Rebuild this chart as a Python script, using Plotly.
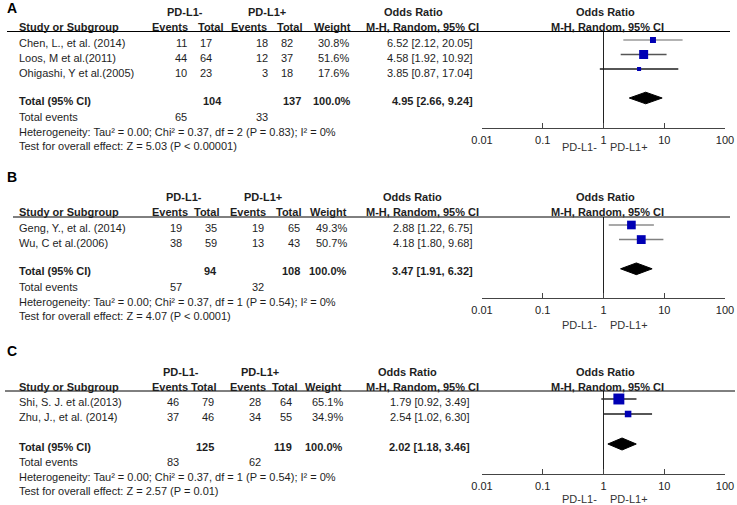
import plotly.graph_objects as go

W, H = 737, 505
FONT = "Liberation Sans, Arial, Helvetica, sans-serif"
TEXT = "#1e1e1e"
BLUE = "#0000b4"

# ---------------- data ----------------
tick_vals = [0.01, 0.1, 1, 10, 100]
tick_labels = ["0.01", "0.1", "1", "10", "100"]
group_neg, group_pos = "PD-L1-", "PD-L1+"

a_studies = ["Chen, L., et al. (2014)", "Loos, M et al.(2011)", "Ohigashi, Y et al.(2005)"]
a_neg_events = [11, 44, 10]
a_neg_total = [17, 64, 23]
a_pos_events = [18, 12, 3]
a_pos_total = [82, 37, 18]
a_weight = [30.8, 51.6, 17.6]
a_or = [6.52, 4.58, 3.85]
a_lo = [2.12, 1.92, 0.87]
a_hi = [20.05, 10.92, 17.04]
a_total = dict(neg_total=104, pos_total=137, weight=100.0, or_=4.95, lo=2.66, hi=9.24,
               neg_events=65, pos_events=33)
a_het = "Heterogeneity: Tau² = 0.00; Chi² = 0.37, df = 2 (P = 0.83); I² = 0%"
a_test = "Test for overall effect: Z = 5.03 (P < 0.00001)"

b_studies = ["Geng, Y., et al. (2014)", "Wu, C et al.(2006)"]
b_neg_events = [19, 38]
b_neg_total = [35, 59]
b_pos_events = [19, 13]
b_pos_total = [65, 43]
b_weight = [49.3, 50.7]
b_or = [2.88, 4.18]
b_lo = [1.22, 1.80]
b_hi = [6.75, 9.68]
b_total = dict(neg_total=94, pos_total=108, weight=100.0, or_=3.47, lo=1.91, hi=6.32,
               neg_events=57, pos_events=32)
b_het = "Heterogeneity: Tau² = 0.00; Chi² = 0.37, df = 1 (P = 0.54); I² = 0%"
b_test = "Test for overall effect: Z = 4.07 (P < 0.0001)"

c_studies = ["Shi, S. J. et al.(2013)", "Zhu, J., et al. (2014)"]
c_neg_events = [46, 37]
c_neg_total = [79, 46]
c_pos_events = [28, 34]
c_pos_total = [64, 55]
c_weight = [65.1, 34.9]
c_or = [1.79, 2.54]
c_lo = [0.92, 1.02]
c_hi = [3.49, 6.30]
c_total = dict(neg_total=125, pos_total=119, weight=100.0, or_=2.02, lo=1.18, hi=3.46,
               neg_events=83, pos_events=62)
c_het = "Heterogeneity: Tau² = 0.00; Chi² = 0.37, df = 1 (P = 0.54); I² = 0%"
c_test = "Test for overall effect: Z = 2.57 (P = 0.01)"

# ---------------- styles / layout (pixel positions) ----------------
a_ci_colors = ["#9a9a9a", "#555555", "#1e1e1e"]
b_ci_colors = ["#8c8c8c", "#808080"]
c_ci_colors = ["#2a2a2a", "#1e1e1e"]

lay_a = dict(label_y=8, hdr1_y=12, hdr2_y=27, line_y=31.5, line_x=(7, 730),
             rows_y=[43, 58, 73], total_y=101, totev_y=117, het_y=132, test_y=146,
             mark_y0=40, row_px=14.5, axis_y=127.5, pd_y=147,
             hdr1=dict(neg=185, pos=267, orr=413),
             hdr2=dict(ev1=189, tot1=224, ev2=268, tot2=303, wt=352, orr=480),
             col=dict(ev1=188, tot1=213, ev2=269, tot2=294, wt=350, orr=474),
             tcol=dict(tot1=223, tot2=302, wt=352, orr=474))
lay_b = dict(label_y=177, hdr1_y=197, hdr2_y=212, line_y=217, line_x=(13, 730),
             rows_y=[228, 243], total_y=271, totev_y=287, het_y=302, test_y=316,
             mark_y0=225, row_px=14.6, axis_y=298, pd_y=325,
             hdr1=dict(neg=184, pos=263, orr=412),
             hdr2=dict(ev1=189, tot1=220, ev2=267, tot2=302, wt=348, orr=480),
             col=dict(ev1=183, tot1=218, ev2=265, tot2=301, wt=348, orr=474),
             tcol=dict(tot1=218, tot2=301, wt=348, orr=474))
lay_c = dict(label_y=351, hdr1_y=372, hdr2_y=387, line_y=391, line_x=(5, 735),
             rows_y=[402, 417], total_y=447, totev_y=462, het_y=477, test_y=491,
             mark_y0=399, row_px=15.0, axis_y=474, pd_y=499,
             hdr1=dict(neg=181, pos=260, orr=407),
             hdr2=dict(ev1=189, tot1=217, ev2=267, tot2=298, wt=343, orr=480),
             col=dict(ev1=180, tot1=215, ev2=262, tot2=293, wt=344, orr=471),
             tcol=dict(tot1=215, tot2=293, wt=344, orr=471))

panels = [
    dict(label="A", studies=a_studies, ne=a_neg_events, nt=a_neg_total, pe=a_pos_events,
         pt=a_pos_total, w=a_weight, orv=a_or, lo=a_lo, hi=a_hi, tot=a_total, het=a_het,
         test=a_test, ci_colors=a_ci_colors, lay=lay_a),
    dict(label="B", studies=b_studies, ne=b_neg_events, nt=b_neg_total, pe=b_pos_events,
         pt=b_pos_total, w=b_weight, orv=b_or, lo=b_lo, hi=b_hi, tot=b_total, het=b_het,
         test=b_test, ci_colors=b_ci_colors, lay=lay_b),
    dict(label="C", studies=c_studies, ne=c_neg_events, nt=c_neg_total, pe=c_pos_events,
         pt=c_pos_total, w=c_weight, orv=c_or, lo=c_lo, hi=c_hi, tot=c_total, het=c_het,
         test=c_test, ci_colors=c_ci_colors, lay=lay_c),
]

FX0, FX1 = 482, 725  # forest axis pixel extents
LEFT = 18


def px_x(px):
    return px / W


def px_y(py):
    return 1 - py / H


annotations = []
shapes = []


def txt(x, y, s, anchor="left", bold=False, size=11, color=TEXT):
    annotations.append(dict(
        xref="paper", yref="paper", x=px_x(x), y=px_y(y),
        text=f"<b>{s}</b>" if bold else s, showarrow=False,
        xanchor=anchor, yanchor="middle", borderpad=0,
        font=dict(family=FONT, size=size, color=color)))


def fmt_or(v, lo, hi):
    return f"{v:.2f} [{lo:.2f}, {hi:.2f}]"


fig = go.Figure()
layout_axes = {}
forest_center = (FX0 + FX1) / 2

for k, p in enumerate(panels):
    L = p["lay"]
    sfx = "" if k == 0 else str(k + 1)
    xa, ya = "x" + sfx, "y" + sfx

    # panel letter
    txt(6, L["label_y"], p["label"], bold=True, size=14, color="#000")

    # headers
    txt(L["hdr1"]["neg"], L["hdr1_y"], group_neg, anchor="center", bold=True)
    txt(L["hdr1"]["pos"], L["hdr1_y"], group_pos, anchor="center", bold=True)
    txt(L["hdr1"]["orr"], L["hdr1_y"], "Odds Ratio", anchor="center", bold=True)
    txt(forest_center + 2, L["hdr1_y"], "Odds Ratio", anchor="center", bold=True)
    txt(LEFT, L["hdr2_y"], "Study or Subgroup", bold=True)
    h2 = L["hdr2"]
    txt(h2["ev1"], L["hdr2_y"], "Events", anchor="right", bold=True)
    txt(h2["tot1"], L["hdr2_y"], "Total", anchor="right", bold=True)
    txt(h2["ev2"], L["hdr2_y"], "Events", anchor="right", bold=True)
    txt(h2["tot2"], L["hdr2_y"], "Total", anchor="right", bold=True)
    txt(h2["wt"], L["hdr2_y"], "Weight", anchor="right", bold=True)
    txt(h2["orr"], L["hdr2_y"], "M-H, Random, 95% CI", anchor="right", bold=True)
    txt(forest_center + 4, L["hdr2_y"], "M-H, Random, 95% CI", anchor="center", bold=True)

    # header rule
    shapes.append(dict(type="line", xref="paper", yref="paper",
                       x0=px_x(L["line_x"][0]), x1=px_x(L["line_x"][1]),
                       y0=px_y(L["line_y"]), y1=px_y(L["line_y"]),
                       line=dict(color="#000", width=1)))

    # study rows
    c = L["col"]
    for i, s in enumerate(p["studies"]):
        y = L["rows_y"][i]
        txt(LEFT, y, s)
        txt(c["ev1"], y, str(p["ne"][i]), anchor="right")
        txt(c["tot1"], y, str(p["nt"][i]), anchor="right")
        txt(c["ev2"], y, str(p["pe"][i]), anchor="right")
        txt(c["tot2"], y, str(p["pt"][i]), anchor="right")
        txt(c["wt"], y, f"{p['w'][i]:.1f}%", anchor="right")
        txt(c["orr"], y, fmt_or(p["orv"][i], p["lo"][i], p["hi"][i]), anchor="right")

    # total rows
    t = p["tot"]
    tc = L["tcol"]
    txt(LEFT, L["total_y"], "Total (95% CI)", bold=True)
    txt(tc["tot1"], L["total_y"], str(t["neg_total"]), anchor="right", bold=True)
    txt(tc["tot2"], L["total_y"], str(t["pos_total"]), anchor="right", bold=True)
    txt(tc["wt"], L["total_y"], f"{t['weight']:.1f}%", anchor="right", bold=True)
    txt(tc["orr"], L["total_y"], fmt_or(t["or_"], t["lo"], t["hi"]), anchor="right", bold=True)
    txt(LEFT, L["totev_y"], "Total events")
    txt(c["ev1"], L["totev_y"], str(t["neg_events"]), anchor="right")
    txt(c["ev2"], L["totev_y"], str(t["pos_events"]), anchor="right")
    txt(LEFT, L["het_y"], p["het"])
    txt(LEFT, L["test_y"], p["test"])

    # forest plot
    n = len(p["studies"])
    rows = list(range(n))
    total_row = n + 1
    y_bottom = (L["axis_y"] - L["mark_y0"]) / L["row_px"]
    y_top = (L["line_y"] - L["mark_y0"]) / L["row_px"]

    # no-effect line
    fig.add_trace(go.Scatter(x=[1, 1], y=[y_bottom, y_top], mode="lines",
                             line=dict(color="#222", width=1), xaxis=xa, yaxis=ya,
                             showlegend=False, hoverinfo="skip"))
    # CI lines
    for i in rows:
        fig.add_trace(go.Scatter(x=[p["lo"][i], p["hi"][i]], y=[i, i], mode="lines",
                                 line=dict(color=p["ci_colors"][i], width=1.5),
                                 xaxis=xa, yaxis=ya, showlegend=False, hoverinfo="skip"))
    # squares (size scales with weight)
    fig.add_trace(go.Scatter(x=p["orv"], y=rows, mode="markers",
                             marker=dict(symbol="square", color=BLUE, opacity=1,
                                         size=[1.5 + wv * 0.145 for wv in p["w"]],
                                         line=dict(width=0)),
                             xaxis=xa, yaxis=ya, showlegend=False))
    # pooled diamond
    hh = 0.4
    fig.add_trace(go.Scatter(x=[t["lo"], t["or_"], t["hi"], t["or_"], t["lo"]],
                             y=[total_row, total_row - hh, total_row, total_row + hh, total_row],
                             mode="lines", fill="toself", fillcolor="#000",
                             line=dict(color="#000", width=1),
                             xaxis=xa, yaxis=ya, showlegend=False, hoverinfo="skip"))

    layout_axes["xaxis" + sfx] = dict(
        type="log", range=[-2, 2], domain=[px_x(FX0), px_x(FX1)], anchor=ya,
        tickvals=tick_vals, ticktext=tick_labels, showline=True, linecolor="#444",
        linewidth=1, ticks="inside", ticklen=5, tickwidth=1, tickcolor="#444",
        showgrid=False, zeroline=False, ticklabelstandoff=2, automargin=False,
        tickfont=dict(family=FONT, size=11, color="#222"))
    layout_axes["yaxis" + sfx] = dict(
        domain=[px_y(L["axis_y"]), px_y(L["line_y"])], range=[y_bottom, y_top],
        visible=False, showgrid=False, zeroline=False, anchor=xa, automargin=False)

    # direction labels under axis
    one_px = FX0 + (0 + 2) / 4 * (FX1 - FX0)
    txt(one_px - 6, L["pd_y"], group_neg, anchor="right", color="#333")
    txt(one_px + 5, L["pd_y"], group_pos, anchor="left", color="#333")

fig.update_layout(
    width=W, height=H, margin=dict(l=0, r=0, t=0, b=0, pad=0, autoexpand=False),
    paper_bgcolor="white", plot_bgcolor="white",
    annotations=annotations, shapes=shapes, showlegend=False,
    **layout_axes)

fig.write_html("out.html", config={"displayModeBar": False},
               post_script="document.body.style.margin='0';document.body.style.overflow='hidden';")
